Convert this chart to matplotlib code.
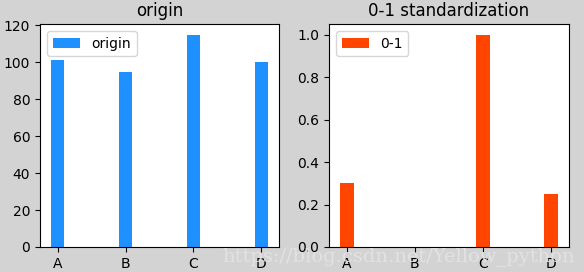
import matplotlib
matplotlib.use("Agg")
import matplotlib.pyplot as plt
import numpy as np

categories = ["A", "B", "C", "D"]
origin_values = [101, 95, 115, 100]
standardized_values = [0.3, 0.0, 1.0, 0.25]

fig = plt.figure(figsize=(5.84, 2.72), dpi=100, facecolor="#d3d3d3")
x = np.arange(len(categories))

ax1 = fig.add_axes([40/584, 1-247/272, 239/584, 223/272])
ax1.bar(x, origin_values, width=0.2, color="dodgerblue", label="origin")
ax1.set_xticks(x)
ax1.set_xticklabels(categories)
ax1.set_title("origin")
ax1.legend(loc="upper left")

ax2 = fig.add_axes([329/584, 1-247/272, 240/584, 223/272])
ax2.bar(x, standardized_values, width=0.2, color="orangered", label="0-1")
ax2.set_xticks(x)
ax2.set_xticklabels(categories)
ax2.set_title("0-1 standardization")
ax2.legend(loc="upper left")

fig.text(222/584, 1-261/272, "https://blog.csdn.net/Yellow_python",
         family="DejaVu Serif", fontsize=14, color="#e4e4e4", alpha=0.9)

fig.savefig("out.png", dpi=100, facecolor=fig.get_facecolor())
